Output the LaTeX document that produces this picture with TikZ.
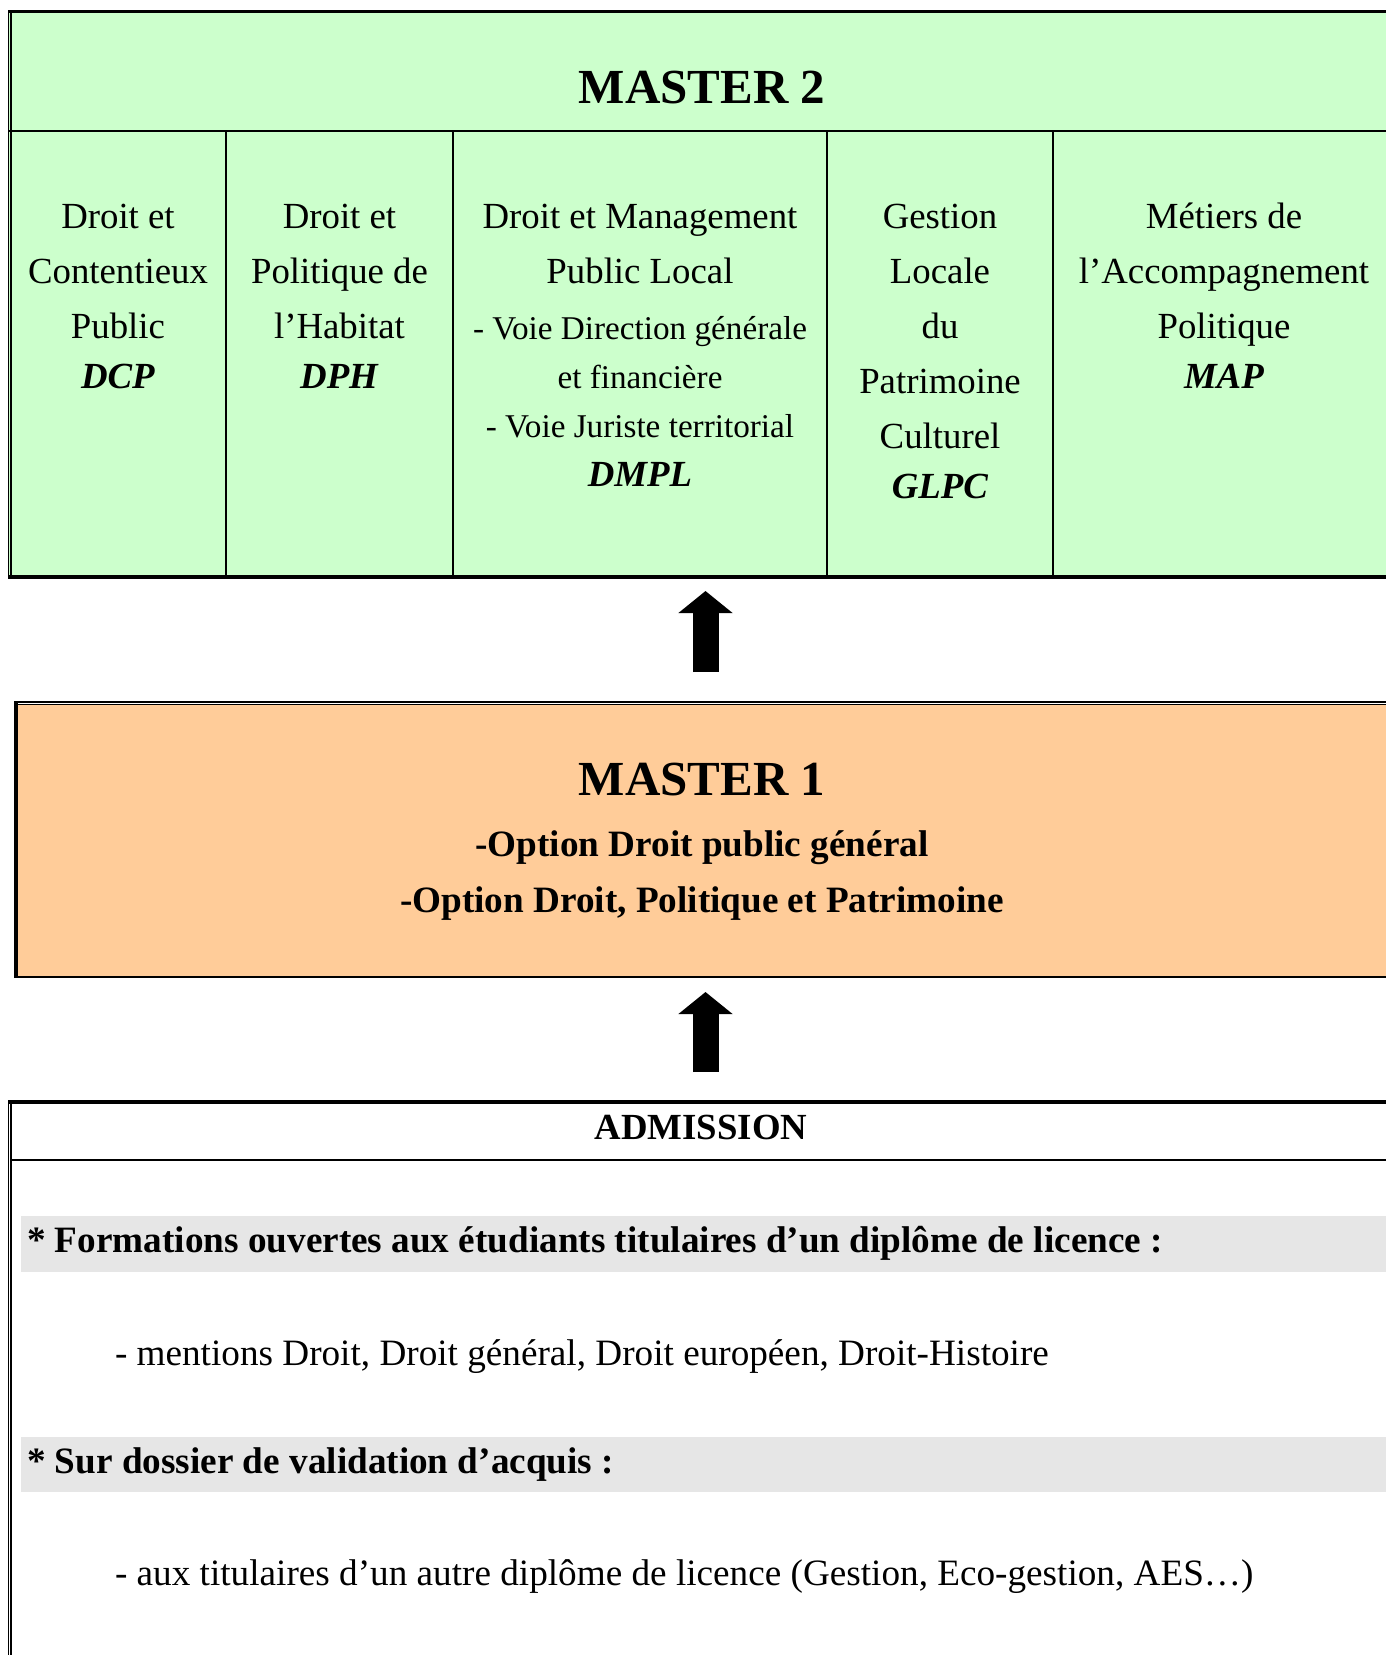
\documentclass[tikz,border=0pt]{standalone}
\usepackage{fontspec}
\setmainfont{Liberation Serif}
\usetikzlibrary{arrows.meta}
\definecolor{mastergreen}{HTML}{CCFFCC}
\definecolor{masterorange}{HTML}{FFCC99}
\definecolor{bandgrey}{HTML}{E6E6E6}

\begin{document}
\begin{tikzpicture}[x=0.5pt,y=-0.5pt,nodes={inner sep=0pt,outer sep=0pt}]
    \tikzstyle{panel} = [rectangle, draw=none, anchor=north west]
    \tikzstyle{title} = [anchor=base, font=\fontsize{24.5}{30}\selectfont\bfseries]
    \tikzstyle{cell} = [align=flush center, text width=180pt, anchor=base, font=\fontsize{18.4}{27.5}\selectfont]
    \tikzstyle{smallcell} = [align=flush center, text width=180pt, anchor=base, font=\fontsize{16.6}{24.5}\selectfont]
    \tikzstyle{entry} = [anchor=base west, font=\fontsize{18.6}{22}\selectfont]
    \tikzstyle{rule} = [line width=0.75pt]
    \tikzstyle{uparrow} = [line width=13pt, -{Triangle[length=11pt,width=26.5pt]}]

    \useasboundingbox (0,0) rectangle (1386,1655);
    \clip (0,0) rectangle (1386,1655);

    % master 2
    \node[panel, fill=mastergreen, minimum width=696.5pt, minimum height=282.65pt] (m2) at (9,11.7) {};
    \draw[line width=1.65pt] (8,11.7) -- (1402,11.7);
    \draw[line width=1pt] (9,131) -- (1402,131);
    \draw[line width=2pt] (8,577) -- (1402,577);
    \draw[line width=0.5pt] (8.5,10) -- (8.5,579);
    \draw[line width=1pt] (11.3,11) -- (11.3,577);
    \foreach \cx in {226,453,827,1053}
        \draw[rule] (\cx,131) -- (\cx,577);

    \node[title] (m2title) at (702,103) {MASTER 2};
    \node[cell] (dcp) at (118,228) {Droit et\\Contentieux\\Public\\[-2.5pt]\textbf{\textit{DCP}}};
    \node[cell] (dph) at (339.5,228) {Droit et\\Politique de\\l’Habitat\\[-2.5pt]\textbf{\textit{DPH}}};
    \node[cell] (dmpl) at (640,228) {Droit et Management\\Public Local};
    \node[smallcell] (voies) at (640,339) {- Voie Direction générale\\et financière\\- Voie Juriste territorial};
    \node[cell] (dmplcode) at (640,486) {\textbf{\textit{DMPL}}};
    \node[cell] (glpc) at (940,228) {Gestion\\Locale\\du\\Patrimoine\\Culturel\\[-2.5pt]\textbf{\textit{GLPC}}};
    \node[cell] (map) at (1224,228) {Métiers de\\l’Accompagnement\\Politique\\[-2.5pt]\textbf{\textit{MAP}}};

    % master 1
    \node[panel, fill=masterorange, minimum width=689.5pt, minimum height=136pt] (m1) at (16,705) {};
    \draw[line width=1pt] (14,702) -- (1402,702);
    \draw[line width=0.5pt] (16,704.5) -- (1402,704.5);
    \draw[line width=1pt] (14,977) -- (1402,977);
    \draw[line width=2pt] (16,701) -- (16,978);

    \node[title] (m1title) at (702,795) {MASTER 1};
    \node[cell, text width=400pt, font=\fontsize{18.6}{28}\selectfont\bfseries] (options) at (702,856)
        {-Option Droit public général\\-Option Droit, Politique et Patrimoine};

    % admission
    \node[panel, minimum width=696.5pt, minimum height=279pt] (adm) at (9,1102) {};
    \fill[bandgrey] (21,1216) rectangle (1402,1272);
    \fill[bandgrey] (21,1437) rectangle (1402,1492);
    \draw[line width=1.65pt] (8,1102) -- (1402,1102);
    \draw[line width=1pt] (11.3,1160) -- (1402,1160);
    \draw[line width=0.5pt] (8.5,1100) -- (8.5,1660);
    \draw[line width=1pt] (11.3,1101) -- (11.3,1660);

    \node[anchor=base, font=\fontsize{18.4}{22}\selectfont\bfseries] (admtitle) at (701,1139) {ADMISSION};
    \node[entry, font=\fontsize{18.6}{22}\selectfont\bfseries] (licence) at (27,1252)
        {* Formations ouvertes aux étudiants titulaires d’un diplôme de licence :};
    \node[entry] (mentions) at (115,1365) {- mentions Droit, Droit général, Droit européen, Droit-Histoire};
    \node[entry, font=\fontsize{18.6}{22}\selectfont\bfseries] (acquis) at (27,1473) {* Sur dossier de validation d’acquis :};
    \node[entry] (autres) at (115,1585) {- aux titulaires d’un autre diplôme de licence (Gestion, Eco-gestion, AES…)};

    % arrows
    \draw[uparrow] ([yshift=16.5pt]m1.north) -- ([yshift=-7pt]m2.south);
    \draw[uparrow] ([yshift=15pt]adm.north) -- ([yshift=-7.5pt]m1.south);
\end{tikzpicture}
\end{document}
